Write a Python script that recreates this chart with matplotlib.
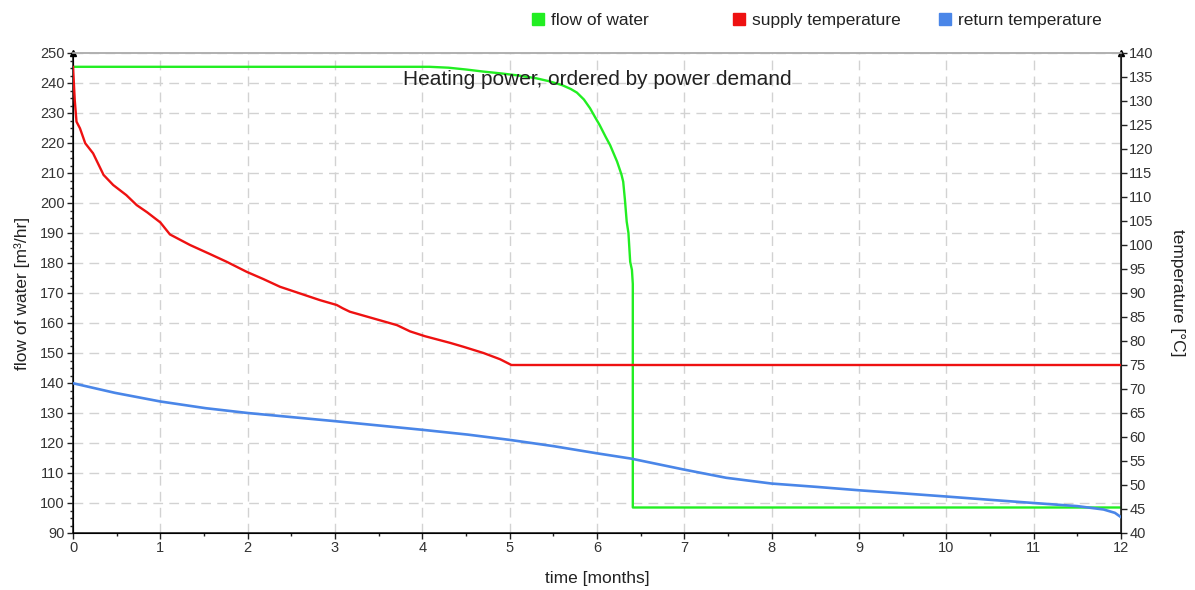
import matplotlib
matplotlib.use("Agg")
import matplotlib.pyplot as plt
from matplotlib.ticker import MultipleLocator
from matplotlib.lines import Line2D

plt.rcParams['font.family'] = ['Liberation Sans', 'DejaVu Sans']

# ---- data ----
months_flow = [0, 4.08, 4.3, 4.5, 4.7, 4.9, 5.1, 5.3, 5.45, 5.6, 5.7, 5.77, 5.85,
               5.92, 5.98, 6.03, 6.1, 6.15, 6.23, 6.28, 6.30, 6.32, 6.34, 6.36,
               6.38, 6.40, 6.41, 6.41, 12]
flow = [245.4, 245.4, 245.1, 244.5, 243.8, 243.2, 242.5, 241.6, 240.6, 239.3, 238.0,
        236.8, 234.5, 231.6, 228.5, 226.0, 222.0, 219.3, 213.8, 209.5, 207.1, 201.0,
        193.8, 190.0, 180.4, 177.7, 173.0, 98.5, 98.5]

months_supply = [0, 0.01, 0.02, 0.04, 0.08, 0.14, 0.23, 0.35, 0.46, 0.61, 0.73, 0.85,
                 1.0, 1.11, 1.34, 1.57, 1.76, 1.99, 2.18, 2.37, 2.6, 2.83, 3.02, 3.09,
                 3.17, 3.44, 3.71, 3.86, 4.03, 4.32, 4.47, 4.7, 4.89, 5.02, 12]
supply = [137.1, 133.7, 130.2, 125.7, 124.3, 121.2, 119.1, 114.6, 112.5, 110.4, 108.3,
          106.8, 104.7, 102.2, 100.0, 98.1, 96.5, 94.4, 92.9, 91.3, 89.9, 88.5, 87.5,
          86.8, 86.1, 84.7, 83.3, 82.0, 81.0, 79.6, 78.8, 77.5, 76.2, 75.0, 75.0]

months_return = [0, 0.48, 1.0, 1.52, 2.0, 3.0, 4.0, 4.52, 5.0, 5.5, 6.0, 6.39, 7.0,
                 7.48, 8.0, 8.52, 9.0, 9.47, 10.0, 10.51, 11.0, 11.5, 11.8, 11.93, 12.0]
ret = [71.2, 69.2, 67.4, 66.0, 65.0, 63.3, 61.5, 60.5, 59.4, 58.1, 56.6, 55.5, 53.2,
       51.5, 50.3, 49.6, 48.9, 48.3, 47.6, 46.9, 46.25, 45.6, 44.9, 44.2, 43.3]

series_names = ["flow of water", "supply temperature", "return temperature"]
colors = ["#22ee22", "#ee1111", "#4a86e8"]

# ---- figure ----
fig = plt.figure(figsize=(11.95, 5.90), dpi=100)
ax = fig.add_axes([73/1195, 1-533/590, (1121-73)/1195, (533-53)/590])
ax2 = ax.twinx()

ax.set_xlim(0, 12)
ax.set_ylim(90, 250)
ax2.set_ylim(40, 140)

ax.plot(months_flow, flow, color=colors[0], lw=1.7, zorder=3)
ax2.plot(months_supply, supply, color=colors[1], lw=1.7, zorder=3)
ax2.plot(months_return, ret, color=colors[2], lw=1.9, zorder=3)

ax.xaxis.set_major_locator(MultipleLocator(1))
ax.xaxis.set_minor_locator(MultipleLocator(0.5))
ax.yaxis.set_major_locator(MultipleLocator(10))
ax.yaxis.set_minor_locator(MultipleLocator(2.5))
ax2.yaxis.set_major_locator(MultipleLocator(5))

ax.grid(True, which='major', color='#d2d2d2', lw=1.0, linestyle=(0, (7, 4.5)))
ax.set_axisbelow(True)

for a in (ax, ax2):
    a.spines['top'].set_color('#b0b0b0')
    a.spines['top'].set_linewidth(1.2)
ax.spines['left'].set_color('#222222')
ax.spines['bottom'].set_color('#222222')
ax2.spines['right'].set_color('#222222')
ax.spines['left'].set_linewidth(1.2)
ax.spines['bottom'].set_linewidth(1.2)
ax2.spines['right'].set_linewidth(1.2)

tick_color = '#333333'
ax.tick_params(axis='both', which='major', direction='out', length=4, width=1,
               labelsize=10.5, labelcolor=tick_color, color='#222222', pad=2)
ax.tick_params(axis='both', which='minor', direction='out', length=2.5, width=1,
               color='#222222')
ax2.tick_params(axis='y', which='major', direction='out', length=4, width=1,
                labelsize=10.5, labelcolor=tick_color, color='#222222', pad=2)

# arrows at top of vertical axes
ax.plot([0], [1], marker='^', color='black', markersize=5, transform=ax.transAxes,
        clip_on=False, zorder=5)
ax.plot([1], [1], marker='^', color='black', markersize=5, transform=ax.transAxes,
        clip_on=False, zorder=5)

ax.set_xlabel("time [months]", fontsize=12.5, color='#222222', labelpad=11)
ax.set_ylabel("flow of water [m³/hr]", fontsize=12.5, color='#222222', labelpad=7)
ax2.set_ylabel("temperature [°C]", fontsize=12.5, color='#222222', rotation=270,
               labelpad=22)

ax.text(0.5, 0.945, "Heating power, ordered by power demand", transform=ax.transAxes,
        ha='center', va='center', fontsize=15, color='#222222', zorder=6)

# legends (three separate entries at the top)
legend_x = [529/1195, 730/1195, 936/1195]
for name, c, lx in zip(series_names, colors, legend_x):
    h = Line2D([], [], marker='s', linestyle='none', markersize=8.5, color=c)
    fig.legend([h], [name], loc='center left', bbox_to_anchor=(lx, 1-20/590),
               frameon=False, fontsize=12.5, handletextpad=0.25, handlelength=1.0,
               borderaxespad=0, borderpad=0, labelcolor='#222222')

fig.savefig("out.png", dpi=100)
